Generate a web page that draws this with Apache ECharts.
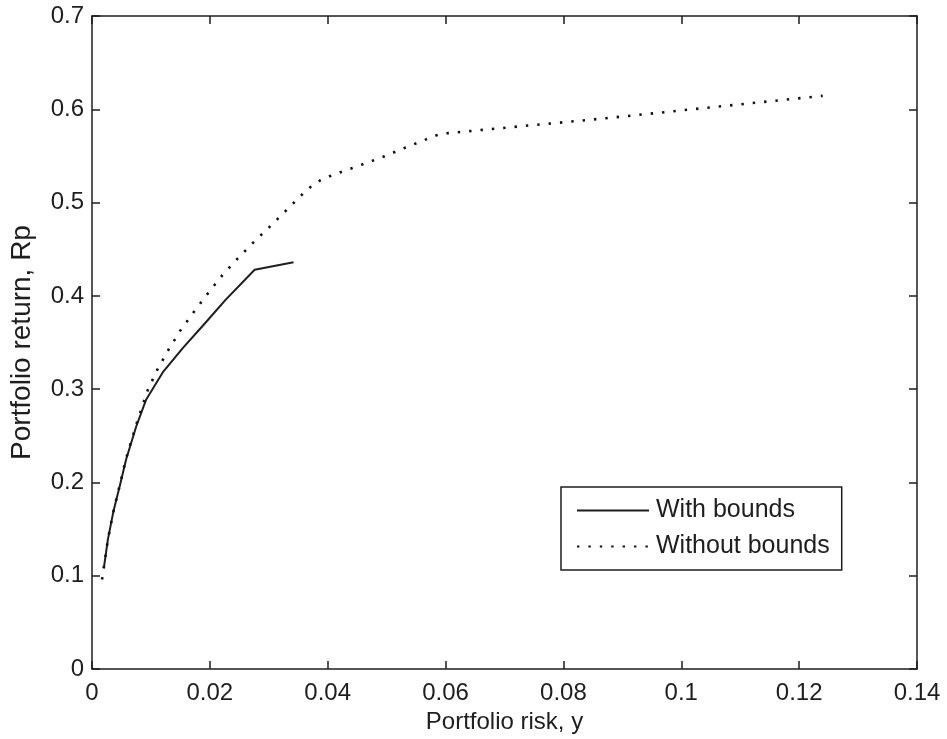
<!DOCTYPE html>
<html>
<head>
<meta charset="utf-8">
<script src="https://cdn.jsdelivr.net/npm/echarts@6/dist/echarts.min.js"></script>
<style>
  html, body { margin: 0; padding: 0; background: #ffffff; }
  #chart { width: 947px; height: 739px; }
</style>
</head>
<body>
<div id="chart"></div>
<script>
// ---- Data ----
var seriesNames = ['With bounds', 'Without bounds'];

var withBoundsRisk   = [0.0020, 0.0027, 0.0036, 0.0047, 0.0058, 0.0075, 0.0092, 0.0120, 0.0154, 0.0188, 0.0227, 0.0276, 0.0342];
var withBoundsReturn = [0.108,  0.139,  0.168,  0.196,  0.225,  0.260,  0.289,  0.318,  0.344,  0.368,  0.396,  0.428,  0.436];

var withoutBoundsRisk   = [0.0017, 0.0027, 0.0036, 0.0047, 0.0058, 0.0075, 0.0094, 0.0110, 0.0130, 0.0150, 0.0173, 0.0197, 0.0221, 0.0247, 0.0275, 0.0303, 0.0330, 0.0358, 0.0373, 0.0388, 0.0406, 0.0442, 0.0498, 0.0532, 0.0568, 0.0590, 0.0605, 0.0872, 0.1064, 0.1240];
var withoutBoundsReturn = [0.096,  0.139,  0.168,  0.197,  0.226,  0.262,  0.298,  0.320,  0.3425, 0.363,  0.383,  0.403,  0.422,  0.440,  0.458,  0.475,  0.492,  0.5095, 0.518,  0.524,  0.529,  0.537,  0.550,  0.559,  0.568,  0.5735, 0.5745, 0.5904, 0.603,  0.6144];

var xMin = 0, xMax = 0.14, xStep = 0.02;
var yMin = 0, yMax = 0.7, yStep = 0.1;
var xAxisTitle = 'Portfolio risk, y';
var yAxisTitle = 'Portfolio return, Rp';

function pairs(xs, ys) {
  var out = [];
  for (var i = 0; i < xs.length; i++) out.push([xs[i], ys[i]]);
  return out;
}
function fmt(v) { return String(parseFloat(Number(v).toFixed(4))); }

var FONT = '"Liberation Sans", Arial, Helvetica, sans-serif';
var INK = '#1e1e1e';

function axisLine() { return { show: true, onZero: false, lineStyle: { color: INK, width: 1.5 } }; }
function tick() { return { show: true, inside: true, length: 8, lineStyle: { color: INK, width: 1.5 } }; }

var chart = echarts.init(document.getElementById('chart'), null, { renderer: 'canvas' });
chart.setOption({
  backgroundColor: '#ffffff',
  animation: false,
  grid: { left: 89, right: 30, top: 16, bottom: 69 },
  legend: {
    left: 561, top: 487,
    orient: 'vertical',
    data: seriesNames,
    itemWidth: 72, itemHeight: 14, itemGap: 11,
    padding: [11, 12, 11, 15],
    backgroundColor: '#ffffff',
    borderColor: INK, borderWidth: 1.5, borderRadius: 0,
    itemStyle: { color: 'rgba(0,0,0,0)', borderColor: 'rgba(0,0,0,0)', borderWidth: 0, opacity: 0 },
    textStyle: { fontFamily: FONT, fontSize: 25, color: INK, lineHeight: 24, padding: [0, 0, 0, 2] }
  },
  xAxis: [{
    type: 'value', position: 'bottom',
    min: xMin, max: xMax, interval: xStep,
    name: xAxisTitle, nameLocation: 'middle', nameGap: 36,
    nameTextStyle: { fontFamily: FONT, fontSize: 24, color: INK },
    axisLine: axisLine(), axisTick: tick(),
    axisLabel: { fontFamily: FONT, fontSize: 24, color: INK, margin: 12, formatter: fmt },
    splitLine: { show: false }
  }, {
    type: 'value', position: 'top',
    min: xMin, max: xMax, interval: xStep,
    axisLine: axisLine(), axisTick: tick(),
    axisLabel: { show: false }, splitLine: { show: false }
  }],
  yAxis: [{
    type: 'value', position: 'left',
    min: yMin, max: yMax, interval: yStep,
    name: yAxisTitle, nameLocation: 'middle', nameGap: 56,
    nameTextStyle: { fontFamily: FONT, fontSize: 28, color: INK },
    axisLine: axisLine(), axisTick: tick(),
    axisLabel: { fontFamily: FONT, fontSize: 24, color: INK, margin: 8, formatter: fmt },
    splitLine: { show: false }
  }, {
    type: 'value', position: 'right',
    min: yMin, max: yMax, interval: yStep,
    axisLine: axisLine(), axisTick: tick(),
    axisLabel: { show: false }, splitLine: { show: false }
  }],
  series: [{
    name: seriesNames[0], type: 'line',
    xAxisIndex: 0, yAxisIndex: 0,
    data: pairs(withBoundsRisk, withBoundsReturn),
    showSymbol: false, symbol: 'none', smooth: false,
    lineStyle: { color: INK, width: 2, type: 'solid' },
    itemStyle: { color: INK }
  }, {
    name: seriesNames[1], type: 'line',
    xAxisIndex: 0, yAxisIndex: 0,
    data: pairs(withoutBoundsRisk, withoutBoundsReturn),
    showSymbol: false, symbol: 'none', smooth: false,
    lineStyle: { color: '#111111', width: 2.6, type: [2.4, 9], cap: 'butt' },
    itemStyle: { color: INK }
  }]
});
</script>
</body>
</html>
